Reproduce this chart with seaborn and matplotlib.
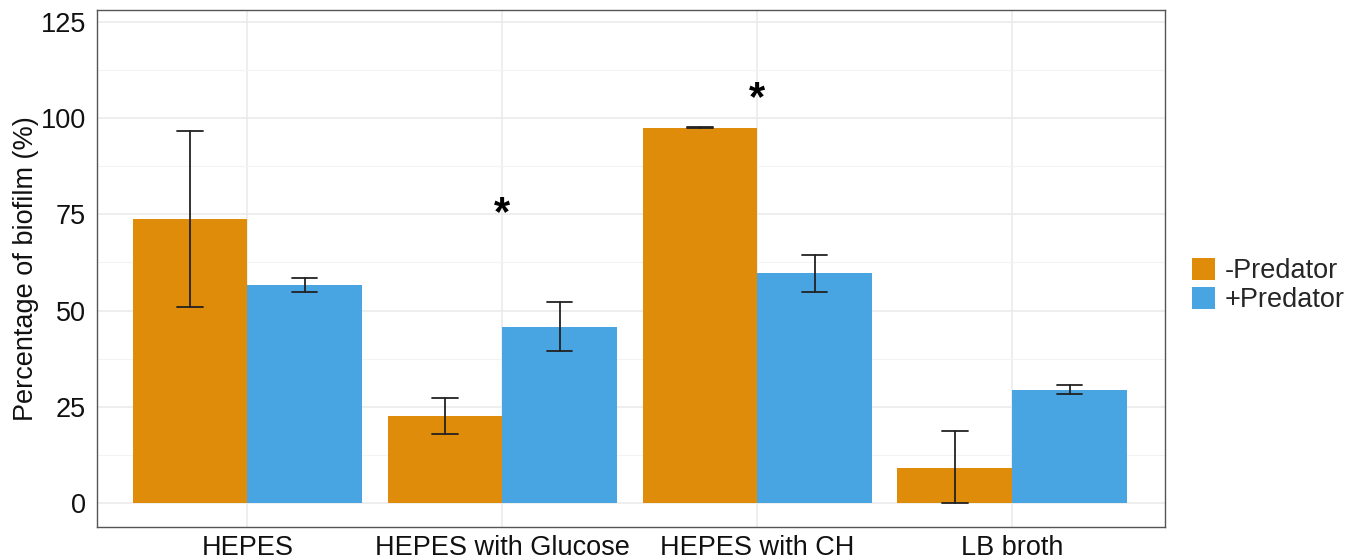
import matplotlib
matplotlib.use("Agg")
import matplotlib.pyplot as plt
from matplotlib.patches import Patch
import seaborn as sns
import pandas as pd
import numpy as np

categories = ["HEPES", "HEPES with Glucose", "HEPES with CH", "LB broth"]
groups = ["-Predator", "+Predator"]
minus_pred = [73.8, 22.6, 97.5, 9.1]
plus_pred = [56.6, 45.7, 59.7, 29.4]
minus_err_lo = [50.8, 17.9, 97.4, 0.0]
minus_err_hi = [96.5, 27.3, 97.7, 18.7]
plus_err_lo = [54.8, 39.5, 54.8, 28.3]
plus_err_hi = [58.4, 52.2, 64.4, 30.6]
sig_labels = ["", "*", "*", ""]
sig_y = [0, 75, 105, 0]
colors = ["#DE8C0A", "#49A5E2"]

sns.set_theme(style="whitegrid")
plt.rcParams['font.family'] = ['Liberation Sans', 'DejaVu Sans']

df = pd.DataFrame({
    "cat": categories * 2,
    "grp": [groups[0]] * 4 + [groups[1]] * 4,
    "val": minus_pred + plus_pred,
})

fig = plt.figure(figsize=(13.58, 5.6), dpi=100)
ax = fig.add_axes([0.0714, 0.0589, 0.7866, 0.9231])
sns.barplot(data=df, x="cat", y="val", hue="grp", order=categories,
            hue_order=groups, palette=colors, width=0.9, errorbar=None,
            saturation=1, ax=ax, legend=False, zorder=2)

# error bars positioned from the drawn bars
los = [minus_err_lo, plus_err_lo]
his = [minus_err_hi, plus_err_hi]
for gi, cont in enumerate(ax.containers):
    for ci, bar in enumerate(cont):
        xc = bar.get_x() + bar.get_width() / 2
        lo, hi = los[gi][ci], his[gi][ci]
        ax.plot([xc, xc], [lo, hi], color="#222222", lw=1.3, zorder=3)
        for yy in (lo, hi):
            ax.plot([xc - 0.05, xc + 0.05], [yy, yy], color="#222222", lw=1.3, zorder=3)
    for b in cont:
        b.set_edgecolor("none")

for i, (lab, yy) in enumerate(zip(sig_labels, sig_y)):
    if lab:
        ax.text(i, yy, lab, ha="center", va="center", fontsize=30,
                fontweight="bold", color="black", zorder=4)

ax.set_ylim(-6.2, 128)
ax.set_xlim(-0.59, 3.6)
ax.set_yticks([0, 25, 50, 75, 100, 125])
ax.set_yticks([12.5, 37.5, 62.5, 87.5, 112.5], minor=True)
ax.grid(True, which="major", color="#EBEBEB", lw=1.2, zorder=0)
ax.grid(True, which="minor", axis="y", color="#F3F3F3", lw=0.8, zorder=0)
ax.set_axisbelow(True)
ax.set_xlabel("")
ax.set_ylabel("Percentage of biofilm (%)", fontsize=19.5, color="#111111", labelpad=1)
ax.tick_params(axis="both", labelsize=19.5, colors="#111111", length=0)
ax.tick_params(axis="y", pad=8)
ax.tick_params(axis="x", pad=6)
ax.tick_params(axis="y", which="minor", length=0)
for s in ax.spines.values():
    s.set_visible(True)
    s.set_color("#555555")
    s.set_linewidth(1.0)

handles = [Patch(facecolor=c, edgecolor="none", label=g) for c, g in zip(colors, groups)]
fig.legend(handles=handles, loc="center left", bbox_to_anchor=(0.870, 0.49),
           frameon=False, fontsize=19.5, handlelength=0.85, handleheight=0.85,
           handletextpad=0.35, labelspacing=0.1, borderaxespad=0)

fig.savefig("out.png", dpi=100)
